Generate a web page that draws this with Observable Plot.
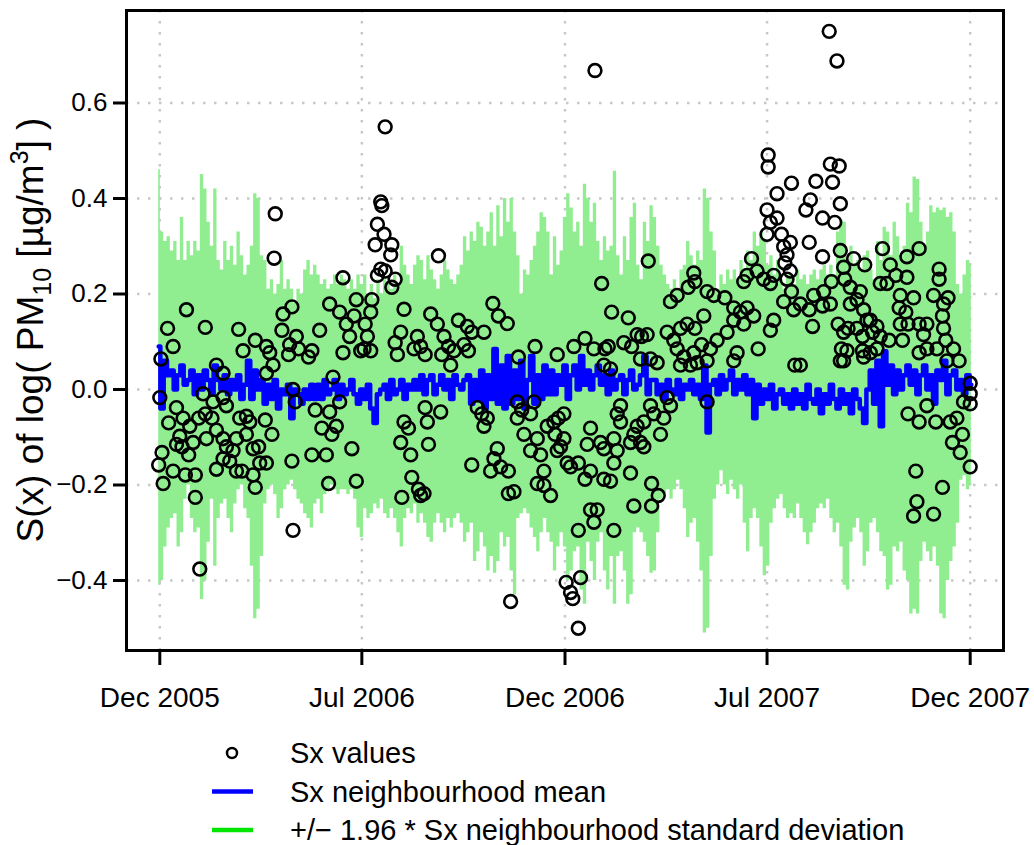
<!DOCTYPE html>
<html>
<head>
<meta charset="utf-8">
<script src="https://cdn.jsdelivr.net/npm/d3@7"></script>
<script src="https://cdn.jsdelivr.net/npm/@observablehq/plot@0.6"></script>
<style>
  body { margin: 0; background: white; font-family: "Liberation Sans", Arial, sans-serif; }
  #chart svg { display: block; }
</style>
</head>
<body>
<div id="chart"></div>
<script>
// ---------------- DATA ----------------
// series start (first day of the neighbourhood statistics), sampled every 3 days
const seriesStart = "2005-12-30";
const bandStepDays = 3;

// +1.96 * neighbourhood SD (upper edge of the green band)
const bandUpper = [
  0.46,0.33,0.31,0.32,0.29,0.31,0.27,0.36,0.27,0.31,
  0.28,0.31,0.29,0.45,0.42,0.35,0.30,0.42,0.27,0.25,
  0.31,0.27,0.30,0.26,0.33,0.28,0.24,0.26,0.30,0.41,
  0.40,0.28,0.27,0.21,0.23,0.20,0.22,0.27,0.21,0.23,
  0.21,0.18,0.21,0.20,0.25,0.27,0.24,0.26,0.24,0.22,
  0.23,0.21,0.22,0.24,0.22,0.24,0.23,0.21,0.23,0.21,
  0.24,0.22,0.24,0.20,0.22,0.19,0.23,0.20,0.23,0.22,
  0.21,0.24,0.22,0.30,0.26,0.24,0.22,0.26,0.28,0.27,
  0.23,0.28,0.25,0.23,0.21,0.24,0.27,0.25,0.23,0.22,
  0.24,0.26,0.32,0.29,0.33,0.31,0.35,0.34,0.30,0.33,
  0.37,0.30,0.385,0.32,0.40,0.35,0.40,0.33,0.28,0.20,
  0.25,0.24,0.27,0.30,0.33,0.37,0.36,0.33,0.24,0.32,
  0.26,0.29,0.36,0.41,0.38,0.33,0.35,0.30,0.43,0.40,
  0.35,0.39,0.31,0.27,0.32,0.29,0.30,0.457,0.28,0.24,
  0.32,0.27,0.36,0.39,0.26,0.23,0.35,0.31,0.385,0.36,
  0.30,0.26,0.24,0.22,0.21,0.23,0.21,0.25,0.26,0.31,
  0.28,0.26,0.29,0.27,0.42,0.40,0.33,0.29,0.21,0.24,
  0.22,0.25,0.23,0.25,0.23,0.27,0.25,0.29,0.27,0.33,
  0.30,0.33,0.31,0.26,0.28,0.24,0.27,0.23,0.21,0.24,
  0.24,0.22,0.25,0.23,0.24,0.22,0.24,0.25,0.23,0.25,
  0.26,0.24,0.26,0.24,0.33,0.355,0.35,0.27,0.30,0.26,
  0.27,0.25,0.28,0.29,0.25,0.23,0.31,0.27,0.34,0.33,
  0.28,0.35,0.32,0.28,0.30,0.39,0.37,0.445,0.44,0.35,
  0.30,0.33,0.385,0.37,0.38,0.375,0.38,0.36,0.37,0.33,
  0.22,0.20,0.24,0.27,0.26
];

// -1.96 * neighbourhood SD (lower edge of the green band)
const bandLower = [
  -0.41,-0.40,-0.33,-0.29,-0.27,-0.26,-0.33,-0.30,-0.23,-0.20,
  -0.27,-0.30,-0.29,-0.44,-0.40,-0.32,-0.23,-0.37,-0.27,-0.24,
  -0.23,-0.27,-0.30,-0.24,-0.21,-0.20,-0.25,-0.27,-0.37,-0.48,
  -0.46,-0.35,-0.24,-0.21,-0.20,-0.22,-0.27,-0.25,-0.21,-0.20,
  -0.19,-0.21,-0.23,-0.24,-0.26,-0.27,-0.29,-0.24,-0.23,-0.26,
  -0.22,-0.21,-0.20,-0.21,-0.22,-0.21,-0.21,-0.22,-0.21,-0.23,
  -0.29,-0.31,-0.25,-0.27,-0.26,-0.24,-0.25,-0.23,-0.26,-0.27,
  -0.25,-0.27,-0.30,-0.33,-0.27,-0.25,-0.26,-0.24,-0.28,-0.26,
  -0.28,-0.31,-0.32,-0.28,-0.26,-0.28,-0.30,-0.27,-0.29,-0.27,
  -0.26,-0.28,-0.32,-0.30,-0.28,-0.36,-0.34,-0.30,-0.33,-0.38,
  -0.35,-0.385,-0.36,-0.30,-0.33,-0.31,-0.38,-0.43,-0.27,-0.26,
  -0.25,-0.26,-0.29,-0.31,-0.34,-0.30,-0.27,-0.30,-0.32,-0.38,
  -0.33,-0.30,-0.33,-0.40,-0.38,-0.34,-0.33,-0.42,-0.45,-0.32,
  -0.36,-0.40,-0.32,-0.30,-0.38,-0.42,-0.35,-0.45,-0.35,-0.34,
  -0.38,-0.45,-0.43,-0.30,-0.29,-0.30,-0.32,-0.35,-0.385,-0.38,
  -0.30,-0.23,-0.22,-0.21,-0.23,-0.21,-0.19,-0.21,-0.25,-0.31,
  -0.28,-0.27,-0.32,-0.38,-0.51,-0.50,-0.35,-0.23,-0.20,-0.17,
  -0.20,-0.22,-0.19,-0.21,-0.23,-0.20,-0.28,-0.34,-0.27,-0.25,
  -0.27,-0.33,-0.39,-0.37,-0.28,-0.25,-0.23,-0.22,-0.25,-0.27,
  -0.26,-0.27,-0.24,-0.27,-0.30,-0.325,-0.30,-0.28,-0.25,-0.24,
  -0.25,-0.23,-0.27,-0.30,-0.28,-0.33,-0.41,-0.42,-0.32,-0.29,
  -0.27,-0.30,-0.37,-0.34,-0.28,-0.27,-0.30,-0.34,-0.35,-0.42,
  -0.41,-0.33,-0.34,-0.32,-0.38,-0.40,-0.47,-0.46,-0.47,-0.36,
  -0.32,-0.34,-0.36,-0.33,-0.37,-0.47,-0.48,-0.40,-0.36,-0.33,
  -0.28,-0.19,-0.18,-0.21,-0.20
];

// neighbourhood mean of Sx
const meanValues = [
  0.09,-0.04,0.06,0.03,
  0.04,0.00,0.03,0.05,0.01,0.02,0.04,-0.01,0.03,0.00,0.04,0.02,-0.01,0.05,0.02,0.00,0.03,
  -0.01,0.02,0.00,0.03,-0.02,0.01,
  0.06,-0.02,0.04,0.00,0.02,
  -0.03,0.01,-0.02,0.02,-0.04,0.00,-0.01,0.01,-0.06,0.00,
  -0.01,-0.03,0.00,-0.02,0.01,-0.02,
  0.01,-0.02,0.02,-0.01,0.00,0.02,-0.02,0.01,-0.01,0.00,0.02,-0.01,
  -0.03,0.00,-0.02,0.01,-0.04,-0.07,-0.01,0.00,
  0.01,-0.02,0.02,-0.01,0.00,0.02,-0.02,0.01,0.00,0.02,
  0.00,0.03,-0.01,0.02,0.03,-0.01,0.01,0.03,0.00,0.02,-0.02,0.03,0.01,0.00,0.02,
  0.03,-0.03,0.02,-0.02,0.04,-0.04,0.03,-0.02,
  0.085,-0.03,0.05,-0.04,
  0.07,-0.03,0.04,-0.02,0.06,-0.04,0.02,0.07,-0.03,0.03,-0.02,0.05,-0.01,
  0.04,-0.01,0.03,0.01,0.05,-0.02,0.03,
  0.05,0.00,0.07,0.01,0.04,0.00,0.03,0.05,0.01,
  0.03,-0.01,0.04,0.00,0.02,0.03,-0.01,0.02,0.04,0.00,0.01,0.03,0.07,-0.01,0.02,
  0.02,-0.01,0.01,-0.02,0.02,0.00,-0.01,0.02,-0.02,0.01,0.00,0.02,-0.01,0.01,-0.02,
  0.05,-0.09,0.01,
  0.02,-0.01,0.03,0.00,0.02,0.04,-0.01,0.02,0.00,0.03,-0.01,0.02,
  -0.06,0.01,-0.03,0.00,-0.02,0.01,-0.04,-0.01,0.00,-0.03,-0.01,
  -0.04,0.00,-0.03,-0.01,-0.04,0.01,-0.02,-0.03,0.00,-0.05,-0.01,-0.03,0.01,-0.02,-0.04,0.00,-0.03,-0.01,-0.05,0.00,-0.02,-0.04,-0.07,0.00,
  0.04,-0.03,0.06,-0.077,0.08,0.01,0.05,-0.01,0.04,0.00,0.03,0.05,
  0.01,0.04,-0.01,0.03,0.05,0.00,0.03,-0.03,0.04,0.02,0.06,-0.01,0.03,0.04,0.00,0.02,-0.01,0.03,0.01
];

// Sx values: [days after seriesStart, value]
const sxValues = [
  [105,0.368],[104,0.275],[166,0.234],[25,0.167],[8,0.128],[42,0.130],[13,0.090],[72,0.126],[2,0.064],[1,-0.017],
  [9,-0.070],[0,-0.158],[3,-0.132],[4,-0.197],[16,-0.115],[21,-0.120],[13,-0.171],[27,-0.137],[24,-0.179],[33,-0.179],
  [33,-0.226],[37,-0.376],[16,-0.038],[22,-0.060],[28,-0.077],[36,-0.060],[42,-0.051],[48,-0.060],[52,-0.085],[58,-0.103],
  [61,-0.120],[67,-0.128],[70,-0.103],[73,-0.060],[79,-0.056],[82,-0.068],[85,-0.124],[90,-0.120],[96,-0.064],[102,-0.094],
  [91,-0.154],[97,-0.154],[85,-0.179],[87,-0.205],[75,-0.171],[70,-0.171],[64,-0.150],[58,-0.145],[52,-0.167],[49,-0.026],
  [58,-0.017],[61,-0.034],[40,-0.009],[52,0.051],[58,0.034],[76,0.081],[87,0.103],[97,0.090],[100,0.077],[103,0.051],
  [97,0.034],[111,0.124],[112,0.158],[120,0.173],[118,0.094],[117,0.073],[124,0.111],[126,0.085],[138,0.081],[135,0.068],
  [145,0.124],[154,0.179],[163,0.162],[169,0.137],[172,0.111],[178,0.188],[166,0.077],[141,-0.043],[154,-0.047],[147,-0.081],
  [160,-0.077],[156,-0.094],[174,-0.124],[138,-0.137],[151,-0.137],[153,-0.197],[178,-0.192],[120,-0.150],[121,-0.295],[123,-0.026],
  [121,0.000],[157,0.026],[163,-0.026],[19,-0.098],[31,-0.111],[43,-0.103],[79,-0.094],
  [204,0.550],[200,0.393],[201,0.385],[197,0.346],[203,0.325],[195,0.303],[210,0.303],[209,0.282],[200,0.252],[204,0.248],
  [197,0.239],[213,0.231],[210,0.214],[252,0.280],[192,0.188],[176,0.154],[191,0.162],[186,0.137],[188,0.111],[191,0.081],
  [185,0.085],[221,0.168],[245,0.158],[251,0.137],[218,0.120],[213,0.098],[215,0.073],[233,0.111],[230,0.085],[236,0.090],
  [240,0.073],[257,0.111],[261,0.090],[255,0.073],[266,0.081],[263,0.051],[270,0.145],[278,0.132],[282,0.120],[275,0.094],
  [279,0.081],[293,0.120],[301,0.180],[306,0.154],[314,0.138],[339,0.090],[324,0.068],[359,0.073],[374,0.090],[221,-0.068],
  [225,-0.081],[218,-0.111],[227,-0.137],[240,-0.038],[242,-0.068],[243,-0.115],[254,-0.047],[228,-0.184],[234,-0.209],[239,-0.218],
  [236,-0.222],[219,-0.226],[282,-0.158],[287,-0.038],[291,-0.051],[296,-0.060],[293,-0.077],[305,-0.124],[302,-0.145],[299,-0.171],
  [308,-0.162],[315,-0.171],[315,-0.218],[320,-0.214],[323,-0.060],[329,-0.094],[335,-0.128],[341,-0.103],[344,-0.137],[335,-0.051],
  [327,-0.043],[347,-0.171],[341,-0.197],[347,-0.201],[353,-0.222],[350,-0.077],[356,-0.068],[360,-0.060],[365,-0.051],[357,-0.094],
  [362,-0.120],[368,-0.154],[371,-0.162],[359,-0.128],[365,-0.103],[317,-0.444],[323,-0.026],[338,-0.026],[182,0.081],
  [367,-0.404],[371,-0.425],[373,-0.438],[380,-0.394],[378,-0.500],
  [393,0.668],[441,0.269],[399,0.222],[408,0.162],[423,0.150],[384,0.107],[392,0.085],[402,0.085],[405,0.090],
  [419,0.098],[426,0.090],[431,0.115],[435,0.111],[440,0.115],[434,0.064],[443,0.064],[449,0.056],[401,0.051],[407,0.043],
  [482,0.244],[483,0.226],[477,0.214],[461,0.184],[467,0.197],[494,0.205],[500,0.197],[510,0.192],[458,0.120],[464,0.103],
  [470,0.128],[476,0.137],[483,0.128],[491,0.154],[467,0.085],[473,0.068],[482,0.077],[489,0.094],[497,0.085],[503,0.103],
  [470,0.051],[479,0.051],[485,0.056],[494,0.060],[512,0.120],[518,0.145],[524,0.162],[530,0.171],[536,0.154],[527,0.137],
  [518,0.171],[534,0.274],[530,0.239],[539,0.248],[545,0.231],[551,0.222],[554,0.239],[527,0.226],[521,0.077],[518,0.060],
  [540,0.085],[549,0.491],[549,0.466],[557,0.410],[548,0.376],[551,0.350],[557,0.359],[548,0.325],[561,0.325],[570,0.432],
  [563,0.299],[566,0.282],[569,0.308],[564,0.265],[569,0.248],[566,0.231],[570,0.205],[563,0.184],[554,0.145],[551,0.124],
  [443,-0.034],[446,-0.051],[455,-0.060],[452,-0.094],[437,-0.068],[458,-0.017],[461,-0.034],[494,-0.026],[416,-0.034],[413,-0.051],
  [416,-0.068],[431,-0.077],[428,-0.094],[425,-0.111],[434,-0.111],[437,-0.120],[389,-0.081],[386,-0.115],[398,-0.111],[401,-0.124],
  [410,-0.103],[413,-0.128],[410,-0.154],[378,-0.154],[389,-0.171],[384,-0.188],[401,-0.188],[407,-0.192],[425,-0.175],[444,-0.197],
  [450,-0.222],[444,-0.244],[428,-0.244],[389,-0.252],[395,-0.252],[392,-0.278],[378,-0.295],[410,-0.295],[573,0.051],
  [604,0.750],[611,0.688],[605,0.472],[613,0.468],[592,0.436],[607,0.434],[587,0.397],[583,0.376],[614,0.389],[598,0.359],
  [609,0.350],[586,0.308],[598,0.278],[614,0.291],[652,0.295],[685,0.295],[674,0.278],[626,0.274],[636,0.261],[617,0.256],
  [659,0.261],[664,0.239],[674,0.235],[650,0.222],[656,0.222],[703,0.252],[703,0.231],[698,0.197],[711,0.192],[707,0.179],
  [590,0.197],[599,0.205],[606,0.226],[618,0.231],[623,0.214],[632,0.205],[623,0.179],[629,0.188],[635,0.167],[638,0.145],
  [572,0.167],[578,0.179],[586,0.167],[598,0.175],[605,0.179],[589,0.132],[612,0.137],[617,0.120],[621,0.128],[629,0.128],
  [634,0.111],[643,0.120],[647,0.132],[641,0.145],[650,0.111],[658,0.103],[647,0.085],[641,0.077],[668,0.197],[667,0.171],
  [673,0.162],[680,0.192],[675,0.137],[668,0.137],[670,0.103],[685,0.137],[689,0.115],[692,0.137],[615,0.085],[620,0.081],
  [617,0.060],[614,0.060],[634,0.081],[635,0.068],[685,0.077],[692,0.085],[701,0.085],[709,0.103],[716,0.085],[710,0.060],
  [721,0.060],[706,0.154],[707,0.128],[578,0.051],[675,-0.051],[685,-0.068],[692,-0.034],[700,-0.068],[713,-0.068],[719,-0.060],
  [725,-0.026],[731,-0.009],[731,-0.030],[724,-0.094],[715,-0.111],[722,-0.132],[731,-0.162],[682,-0.171],[706,-0.205],[683,-0.235],
  [680,-0.265],[698,-0.261],[731,0.013]
];

// axis ticks
const xTickDates = ["2005-12-31","2006-07-01","2006-12-31","2007-07-01","2007-12-31"];
const xTickLabels = ["Dec 2005","Jul 2006","Dec 2006","Jul 2007","Dec 2007"];
const yTicks = [-0.4,-0.2,0.0,0.2,0.4,0.6];
const xDomain = ["2005-12-01","2008-01-30"];
const yDomain = [-0.5466, 0.7937];

// ---------------- BUILD ----------------
const DAY = 864e5;
const t0 = Date.parse(seriesStart + "T00:00:00Z");
const bandRows = bandUpper.map((u, i) => ({
  date: new Date(t0 + i * bandStepDays * DAY),
  upper: u,
  lower: bandLower[i],
  mean: meanValues[i]
}));
const sxRows = sxValues.map(([d, v]) => ({date: new Date(t0 + d * DAY), value: v}));
const tickDates = xTickDates.map(s => new Date(s + "T00:00:00Z"));
const labelByTime = new Map(tickDates.map((d, i) => [+d, xTickLabels[i]]));
const fmtY = d => (d < 0 ? "\u2212" : "") + Math.abs(d).toFixed(1);

const font = "'Liberation Sans', Arial, Helvetica, sans-serif";
const gridStyle = {stroke: "#c8c8c8", strokeWidth: 2.5, strokeDasharray: "2.5,8.5"};

const chart = Plot.plot({
  width: 1034,
  height: 720,
  marginLeft: 126,
  marginRight: 31,
  marginTop: 10,
  marginBottom: 70,
  style: {fontFamily: font, background: "white", color: "black", overflow: "visible"},
  x: {type: "utc", domain: xDomain.map(s => new Date(s + "T00:00:00Z"))},
  y: {domain: yDomain},
  marks: [
    Plot.ruleX(tickDates, gridStyle),
    Plot.ruleY(yTicks, gridStyle),
    Plot.areaY(bandRows, {x: "date", y1: "lower", y2: "upper", fill: "#90ee90", curve: "step"}),
    Plot.lineY(bandRows, {x: "date", y: "mean", stroke: "#0000ff", strokeWidth: 4.5, curve: "step"}),
    Plot.dot(sxRows, {x: "date", y: "value", r: 6.4, stroke: "black", strokeWidth: 2.6, fill: "none"}),
    Plot.frame({stroke: "black", strokeWidth: 3}),
    Plot.axisX({ticks: tickDates, tickFormat: d => labelByTime.get(+d), tickSize: 15, tickPadding: 22,
                fontSize: 28, strokeWidth: 3, label: null}),
    Plot.axisY({ticks: yTicks, tickFormat: fmtY, tickSize: 13, tickPadding: 6,
                fontSize: 26, strokeWidth: 3, label: null})
  ]
});

// y-axis title with subscript / superscript
const svg = d3.select(chart);
const title = svg.append("text")
  .attr("transform", "translate(43,330) rotate(-90)")
  .attr("text-anchor", "middle")
  .attr("font-family", font)
  .attr("font-size", 37)
  .attr("fill", "black");
title.append("tspan").text("S(x) of log( PM");
title.append("tspan").attr("font-size", 25).attr("dy", 8).text("10");
title.append("tspan").attr("dy", -8).text(" [\u00b5g/m");
title.append("tspan").attr("font-size", 25).attr("dy", -15).text("3");
title.append("tspan").attr("dy", 15).text("] )");

document.getElementById("chart").appendChild(chart);

// legend below the chart
const legendItems = [
  {label: "Sx values", kind: "dot"},
  {label: "Sx neighbourhood mean", kind: "line", color: "#0000ff"},
  {label: "+/\u2212 1.96 * Sx neighbourhood standard deviation", kind: "line", color: "#00e600"}
];
const leg = d3.select("#chart").append("svg")
  .attr("width", 1034).attr("height", 125)
  .style("display", "block")
  .attr("font-family", font);
legendItems.forEach((it, i) => {
  const cy = 33 + i * 38.5;
  if (it.kind === "dot") {
    leg.append("circle").attr("cx", 232).attr("cy", cy).attr("r", 5)
      .attr("fill", "none").attr("stroke", "black").attr("stroke-width", 2.5);
  } else {
    leg.append("line").attr("x1", 212).attr("x2", 253).attr("y1", cy).attr("y2", cy)
      .attr("stroke", it.color).attr("stroke-width", 4.5);
  }
  leg.append("text").attr("x", 290).attr("y", cy + 10).attr("font-size", 29)
    .attr("fill", "black").text(it.label);
});
</script>
</body>
</html>
